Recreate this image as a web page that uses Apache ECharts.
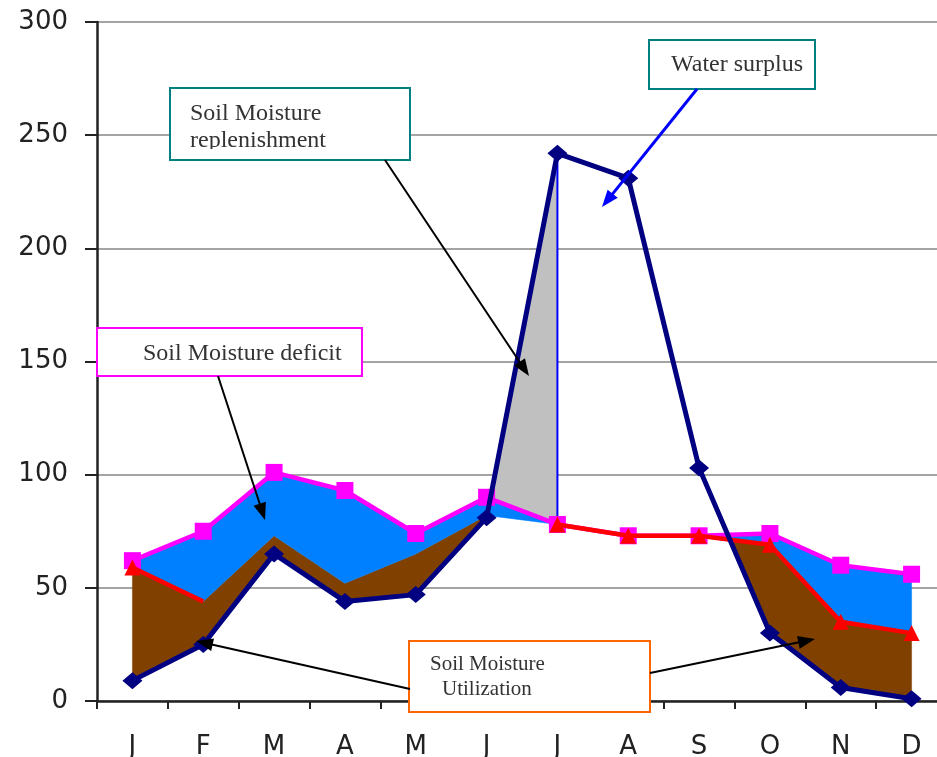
<!DOCTYPE html>
<html>
<head>
<meta charset="utf-8">
<title>Water balance</title>
<script src="https://cdn.jsdelivr.net/npm/echarts@6/dist/echarts.min.js"></script>
<style>
  html, body { margin: 0; padding: 0; background: #fff; overflow: hidden; }
  #chart { position: absolute; left: 0; top: 0; width: 960px; height: 757px; }
</style>
</head>
<body>
<div id="chart"></div>
<script>
// Monthly water balance (mm)
const months = ['J', 'F', 'M', 'A', 'M', 'J', 'J', 'A', 'S', 'O', 'N', 'D'];
const precipitation = [9, 25, 65, 44, 47, 81, 242, 231, 103, 30, 6, 1];
const potentialET = [62, 75, 101, 93, 74, 90, 78, 73, 73, 74, 60, 56];
const actualET = [59, 44, 73, 52, 65, 82, 78, 73, 73, 69, 35, 30];
const yTicks = [0, 50, 100, 150, 200, 250, 300];

// Regions where `upper` lies above `lower`, clipped at the crossings.
function bands(upper, lower, from, to) {
  const runs = [];
  let top = [], bot = [];
  const cross = (i, d0, d1) => {
    const t = d0 / (d0 - d1);
    return [i - 1 + t, lower[i - 1] + t * (lower[i] - lower[i - 1])];
  };
  for (let i = from; i <= to; i++) {
    const d = upper[i] - lower[i];
    if (d > 0) {
      if (!top.length && i > from) {
        const dp = upper[i - 1] - lower[i - 1];
        const p = cross(i, dp, d);
        top.push(p); bot.push(p);
      }
      top.push([i, upper[i]]);
      bot.push([i, lower[i]]);
    } else if (top.length) {
      const dp = upper[i - 1] - lower[i - 1];
      const p = cross(i, dp, d);
      top.push(p);
      runs.push(top.concat(bot.reverse()));
      top = []; bot = [];
    }
  }
  if (top.length) runs.push(top.concat(bot.reverse()));
  return runs;
}

function fillSeries(runs, color, z) {
  return {
    type: 'custom',
    xAxisIndex: 1,
    yAxisIndex: 0,
    silent: true,
    z: z,
    data: [[0, 0]],
    renderItem: function (params, api) {
      return {
        type: 'group',
        children: runs.map(pts => ({
          type: 'polygon',
          shape: { points: pts.map(p => api.coord(p)) },
          style: { fill: color, stroke: color, lineWidth: 0.5 }
        }))
      };
    }
  };
}

const idx = (arr) => arr.map((v, i) => [i, v]);

// AET line is shown where it is not buried under the fills
const aetShown = [true, true, false, false, false, false, true, true, true, true, true, true];
const aetLine = actualET.map((v, i) => aetShown[i]
  ? { value: [i, v], symbol: i === 1 ? 'none' : 'triangle' }
  : { value: [i, null] });

function arrow(x1, y1, x2, y2, color, w) {
  const a = Math.atan2(y2 - y1, x2 - x1);
  const L = 17, W = 6.5;
  const c = Math.cos(a), s = Math.sin(a);
  const bx = x2 - L * c, by = y2 - L * s;
  return [
    { type: 'line', z: 100, shape: { x1: x1, y1: y1, x2: bx + 2 * c, y2: by + 2 * s },
      style: { stroke: color, lineWidth: w } },
    { type: 'polygon', z: 100,
      shape: { points: [[x2, y2], [bx + W * s, by - W * c], [bx - W * s, by + W * c]] },
      style: { fill: color } }
  ];
}

function box(x, y, w, h, stroke) {
  return { type: 'rect', z: 100, shape: { x: x, y: y, width: w, height: h },
    style: { fill: '#fff', stroke: stroke, lineWidth: 2 } };
}

function label(text, x, y, size) {
  return { type: 'text', z: 101, x: x, y: y,
    style: { text: text, font: size + 'px "Liberation Serif", "Times New Roman", serif',
      fill: '#333', align: 'left', verticalAlign: 'middle',
      textAlign: 'left', textVerticalAlign: 'middle' } };
}

const chart = echarts.init(document.getElementById('chart'), null, { renderer: 'canvas' });

const option = {
  animation: false,
  backgroundColor: '#fff',
  grid: { left: 97, top: 22, width: 850, height: 679, containLabel: false, outerBoundsMode: 'none' },
  xAxis: [
    {
      type: 'category',
      data: months,
      boundaryGap: true,
      axisLine: { show: true, onZero: false, lineStyle: { color: '#222', width: 2.5 } },
      axisTick: { show: true, length: 8, lineStyle: { color: '#222', width: 2 } },
      axisLabel: { interval: 0, margin: 33, color: '#222', fontSize: 26,
        fontFamily: 'DejaVu Sans' },
      splitLine: { show: false }
    },
    {
      type: 'value',
      show: false,
      min: -0.5,
      max: 11.5
    }
  ],
  yAxis: {
    type: 'value',
    min: yTicks[0],
    max: yTicks[yTicks.length - 1],
    interval: yTicks[1] - yTicks[0],
    axisLine: { show: true, onZero: false, lineStyle: { color: '#222', width: 2.5 } },
    axisTick: { show: true, length: 12, lineStyle: { color: '#222', width: 2 } },
    axisLabel: { margin: 29, color: '#222', fontSize: 26, fontFamily: 'DejaVu Sans' },
    splitLine: { show: true, lineStyle: { color: '#a4a4a4', width: 2 } }
  },
  series: [
    // soil moisture utilization
    fillSeries(bands(actualET, precipitation, 0, 11), '#804000', 1),
    // soil moisture deficit
    fillSeries(bands(potentialET, actualET, 0, 11), '#0080ff', 1),
    // soil moisture replenishment
    fillSeries(bands(precipitation, potentialET, 5, 6), '#c0c0c0', 1),
    {
      type: 'line', xAxisIndex: 1, z: 3, silent: true, symbol: 'none',
      data: [[6, potentialET[6]], [6, precipitation[6]]],
      lineStyle: { color: '#0000ff', width: 2 }
    },
    {
      name: 'PET', type: 'line', xAxisIndex: 1, z: 4, silent: true,
      data: idx(potentialET),
      symbol: 'rect', symbolSize: 17,
      itemStyle: { color: '#ff00ff' },
      lineStyle: { color: '#ff00ff', width: 4.5 }
    },
    {
      name: 'AET', type: 'line', xAxisIndex: 1, z: 5, silent: true,
      data: aetLine, connectNulls: false,
      symbol: 'triangle', symbolSize: 16,
      itemStyle: { color: '#ff0000' },
      lineStyle: { color: '#ff0000', width: 4.5 }
    },
    {
      name: 'P', type: 'line', xAxisIndex: 1, z: 6, silent: true,
      data: idx(precipitation),
      symbol: 'diamond', symbolSize: [20, 17],
      itemStyle: { color: '#000080' },
      lineStyle: { color: '#000080', width: 5 }
    }
  ],
  graphic: {
    elements: [].concat(
      // replenishment
      [box(170, 88, 240, 72, '#008080'),
       label('Soil Moisture', 190, 113.5, 24),
       label('replenishment', 190, 141, 24),
       { type: 'rect', z: 102, shape: { x: 172, y: 149, width: 236, height: 10 },
         style: { fill: '#fff' } }],
      arrow(385, 160, 529, 376, '#000', 2),
      // surplus
      [box(649, 40, 166, 49, '#008080'), label('Water surplus', 671, 65, 24)],
      arrow(697, 89, 602, 207, '#0000ff', 3),
      // deficit
      [box(97, 328, 265, 48, '#ff00ff'), label('Soil Moisture deficit', 143, 353.5, 24)],
      arrow(218, 376, 265, 520, '#000', 2),
      // utilization
      [box(409, 641, 241, 71, '#ff6600'),
       label('Soil Moisture', 430, 664.5, 21),
       label('Utilization', 442, 689, 21)],
      arrow(410, 689, 196, 641, '#000', 2),
      arrow(650, 673, 815, 639, '#000', 2)
    )
  }
};

chart.setOption(option);
</script>
</body>
</html>
